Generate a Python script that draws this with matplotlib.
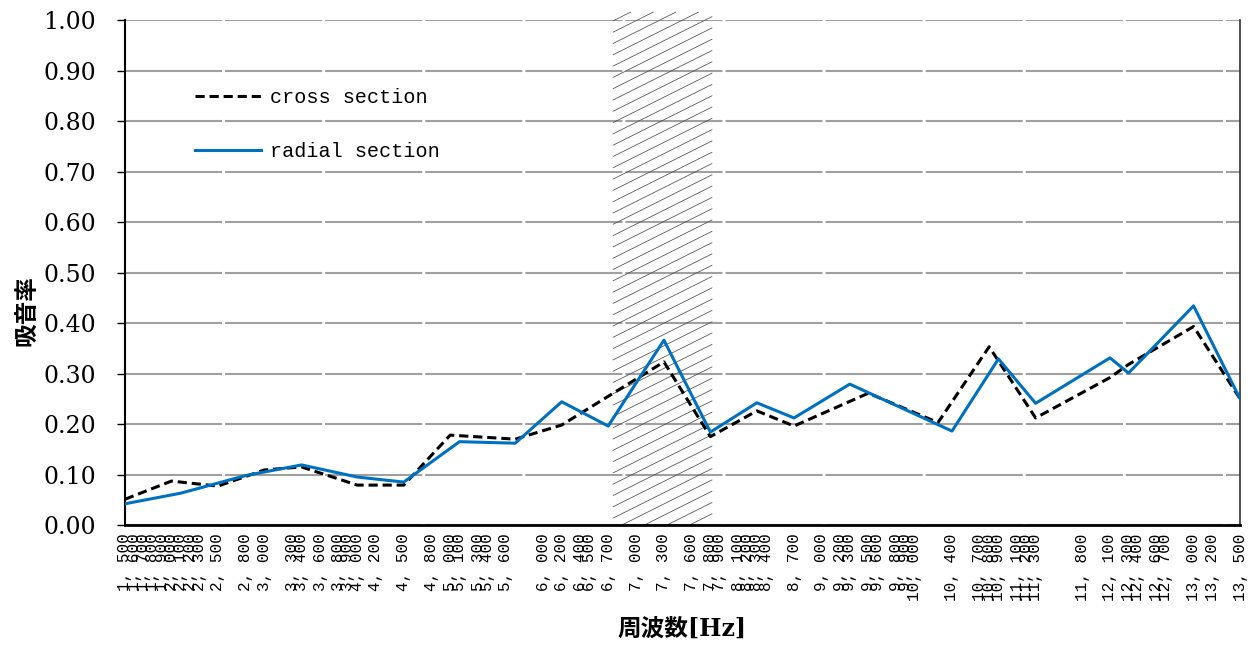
import numpy as np
import matplotlib
matplotlib.use("Agg")
import matplotlib.pyplot as plt
from matplotlib.collections import LineCollection
from matplotlib.font_manager import FontProperties

# 折れ線の頂点 (周波数 Hz, 吸音率)
freq_cross = [1500, 2000, 2500, 3000, 3400, 4000, 4500, 5000, 5700, 6200,
              7300, 7800, 8300, 8700, 9500, 10250, 10800, 11300, 12100,
              12300, 13000, 13500]
absorb_cross = [0.051, 0.087, 0.077, 0.109, 0.115, 0.079, 0.079, 0.178,
                0.170, 0.198, 0.323, 0.175, 0.226, 0.196, 0.261, 0.203,
                0.353, 0.212, 0.292, 0.318, 0.393, 0.250]

freq_radial = [1500, 2100, 2800, 3400, 4000, 4500, 5100, 5700, 6200, 6700,
               7300, 7800, 8300, 8700, 9300, 10400, 10900, 11300, 12100,
               12300, 13000, 13500]
absorb_radial = [0.042, 0.063, 0.098, 0.119, 0.095, 0.085, 0.165, 0.162,
                 0.244, 0.196, 0.366, 0.184, 0.242, 0.212, 0.279, 0.186,
                 0.329, 0.241, 0.331, 0.301, 0.434, 0.250]

# x 軸の目盛ラベル (測定周波数)
tick_freqs = [1500, 1600, 1700, 1800, 1900, 2000, 2100, 2200, 2300, 2500,
              2800, 3000, 3300, 3400, 3600, 3800, 3900, 4000, 4200, 4500,
              4800, 5000, 5100, 5300, 5400, 5600, 6000, 6200, 6400, 6500,
              6700, 7000, 7300, 7600, 7800, 7900, 8100, 8200, 8300, 8400,
              8700, 9000, 9200, 9300, 9500, 9600, 9800, 9900, 10000, 10400,
              10700, 10800, 10900, 11100, 11200, 11300, 11800, 12100, 12300,
              12400, 12600, 12700, 13000, 13200, 13500]

hatch_range = (6750, 7820)
y_ticks = [0.0, 0.1, 0.2, 0.3, 0.4, 0.5, 0.6, 0.7, 0.8, 0.9, 1.0]

COLOR_BLUE = "#0070C0"
X_MIN, X_MAX = 1500, 13500
W_IN, H_IN, DPI = 12.56, 6.46, 100
AX_POS = [0.0995, 0.1873, 0.8878, 0.7817]

fig = plt.figure(figsize=(W_IN, H_IN), dpi=DPI)
ax = fig.add_axes(AX_POS)

# 1. lines
ax.plot(freq_cross, absorb_cross, color="black", lw=2.2,
        linestyle=(0, (3.0, 1.6)), label="cross section", zorder=4)
ax.plot(freq_radial, absorb_radial, color=COLOR_BLUE, lw=2.2,
        label="radial section", zorder=5)

ax.set_xlim(X_MIN, X_MAX)
ax.set_ylim(0, 1.0)

# 2. 斜線の帯 (hatch)
px_per_hz = AX_POS[2] * W_IN * DPI / (X_MAX - X_MIN)
px_per_unit = AX_POS[3] * H_IN * DPI
slope = 0.5 * px_per_hz / px_per_unit      # data units per Hz
step = 11.3 / px_per_unit
y_top = 1.016
x0, x1 = hatch_range
w = x1 - x0
segs = []
for c in np.arange(-slope * w, y_top, step):
    xs = x0 + max(0.0, -c / slope)
    xe = x0 + min(w, (y_top - c) / slope)
    if xs < xe:
        segs.append([(xs, c + slope * (xs - x0)), (xe, c + slope * (xe - x0))])
hatch = LineCollection(segs, colors="#505050", linewidths=0.55,
                       clip_on=False, zorder=2)
ax.add_collection(hatch)

# 3. grid
ax.set_yticks(y_ticks)
ax.set_yticklabels(["{:.2f}".format(v) for v in y_ticks],
                   fontfamily="DejaVu Serif", fontsize=17)
ax.grid(axis="y", color="#a0a0a0", lw=1.5, linestyle=(0, (46.6, 1.44)),
        zorder=1)
ax.set_axisbelow(True)
ax.tick_params(axis="y", direction="out", length=6, width=1, pad=15)

# 4. x ticks
ax.set_xticks(tick_freqs)
ax.set_xticklabels(["{:,}".format(f).replace(",", ", ") for f in tick_freqs],
                   rotation=90, fontfamily="Liberation Mono", fontsize=11.5)
ax.tick_params(axis="x", length=0, pad=6)

# 5. spines
ax.spines["top"].set_visible(False)
ax.spines["left"].set_linewidth(1.5)
ax.spines["bottom"].set_linewidth(2)
ax.spines["right"].set_linewidth(1.2)
ax.spines["right"].set_color("#303030")

# 6. labels
fig.text(0.0215, 0.52, "吸音率", rotation=90, ha="center", va="center",
         fontsize=17, fontweight="bold",
         family=["DejaVu Serif", "Noto Sans CJK JP"])
fig.text(0.543, 0.027, "周波数[Hz]", ha="center", va="center",
         fontsize=17, fontweight="bold",
         family=["DejaVu Serif", "Noto Sans CJK JP"])

# 7. legend
ax.legend(loc="upper left", bbox_to_anchor=(0.0628, 0.866), frameon=False,
          prop=FontProperties(family="Liberation Mono", size=14.5),
          handlelength=3.3, handletextpad=0.4, labelspacing=1.75,
          borderpad=0, borderaxespad=0)

fig.savefig("out.png", dpi=DPI)
